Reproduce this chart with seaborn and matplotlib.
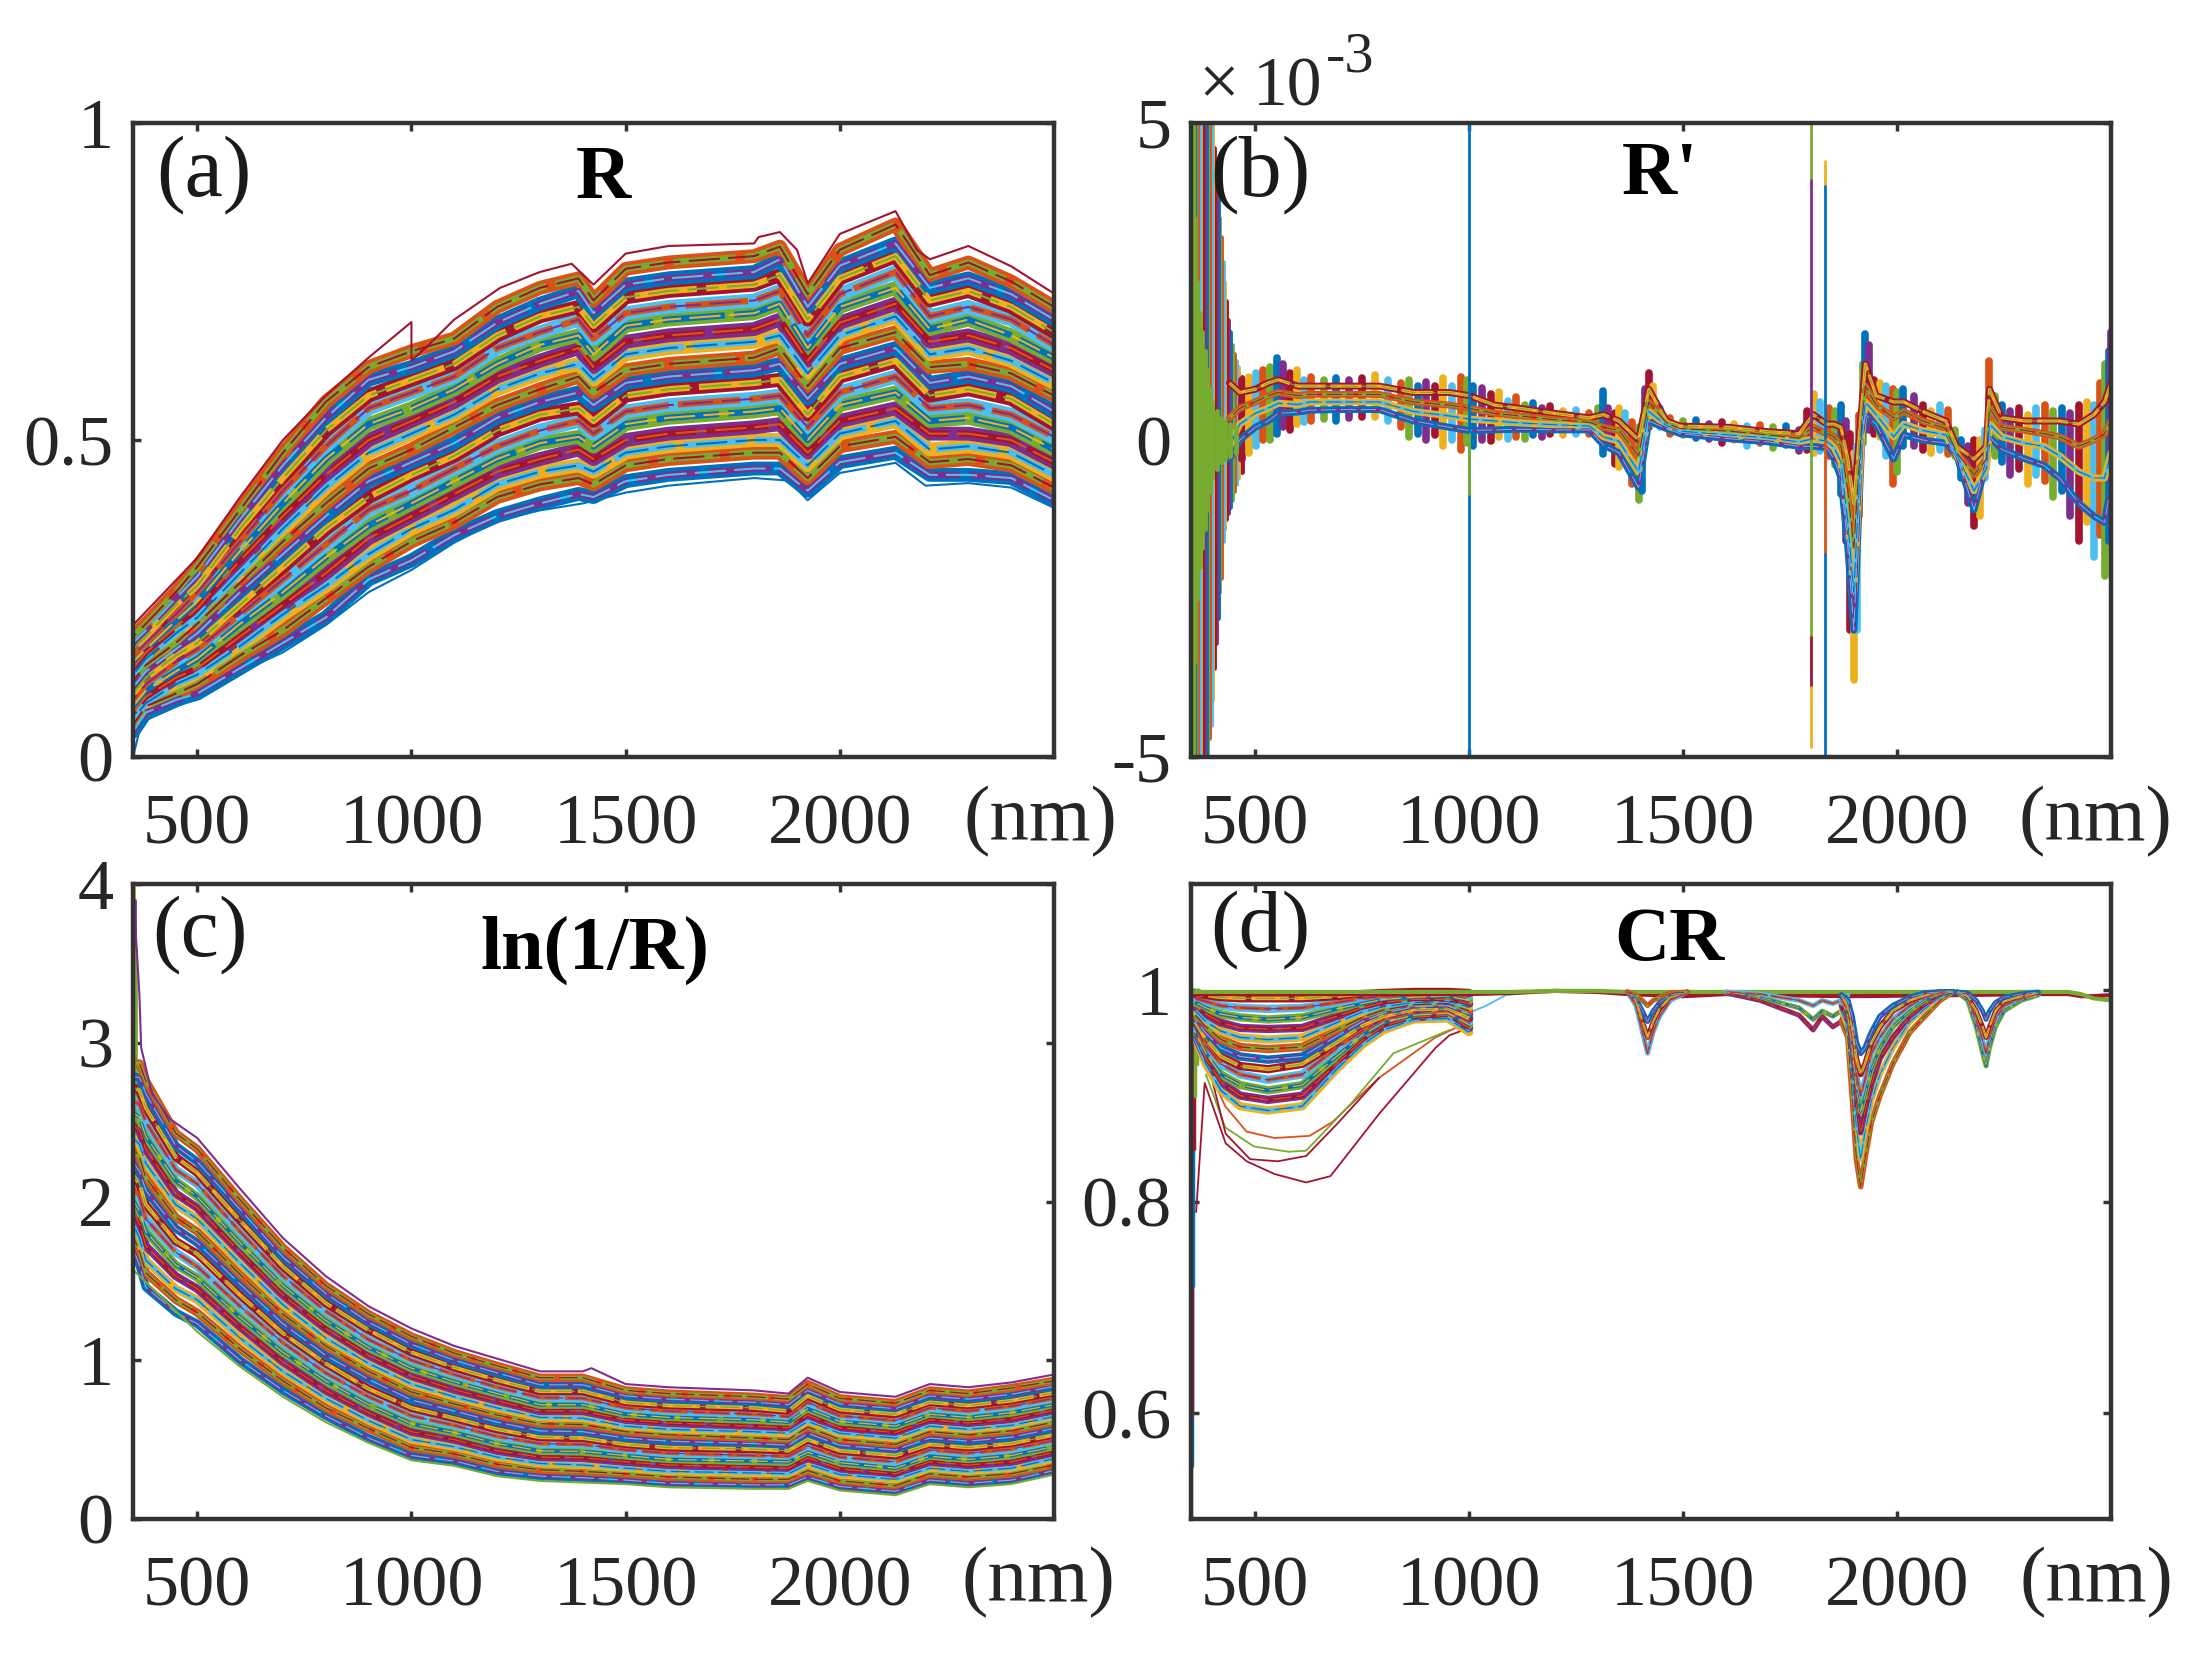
import matplotlib
matplotlib.use("Agg")
import matplotlib.pyplot as plt
import pandas as pd
import seaborn as sns

# matlab default line colours, the curves cycle through them
line_colors = ["#0072BD", "#D95319", "#EDB120", "#7E2F8E", "#77AC30", "#4DBEEE", "#A2142F"]

x_ticks = [500, 1000, 1500, 2000]

# ---------- panel a: R ----------
a_nm = [350, 380, 450, 500, 600, 700, 800, 900, 1000, 1100, 1200, 1300, 1390, 1425, 1500, 1600, 1800, 1860, 1925, 2000, 2130, 2210, 2300, 2400, 2500]
a_curves = [
    [.04, .07, .09, .10, .14, .18, .22, .28, .31, .35, .38, .40, .415, .41, .435, .445, .455, .455, .42, .465, .48, .445, .445, .44, .405],
    [.05, .08, .10, .115, .16, .20, .25, .30, .34, .37, .41, .43, .44, .43, .46, .47, .48, .48, .44, .49, .505, .465, .47, .46, .425],
    [.06, .085, .115, .13, .175, .225, .27, .32, .36, .39, .43, .45, .46, .45, .48, .49, .50, .50, .46, .51, .53, .485, .49, .48, .445],
    [.07, .095, .125, .14, .19, .24, .29, .345, .38, .415, .45, .47, .485, .47, .50, .51, .52, .525, .48, .53, .55, .51, .51, .50, .465],
    [.08, .105, .135, .155, .21, .26, .315, .365, .40, .435, .47, .495, .505, .49, .525, .535, .545, .55, .50, .555, .575, .53, .535, .52, .485],
    [.09, .115, .15, .17, .225, .28, .335, .39, .42, .455, .49, .515, .53, .51, .545, .555, .565, .57, .52, .575, .60, .55, .555, .54, .505],
    [.10, .125, .16, .18, .24, .30, .36, .41, .445, .475, .515, .54, .55, .53, .57, .58, .59, .595, .54, .60, .625, .57, .58, .565, .525],
    [.11, .135, .17, .195, .26, .32, .38, .435, .465, .495, .535, .56, .575, .555, .59, .60, .61, .62, .565, .62, .645, .59, .60, .585, .545],
    [.12, .145, .18, .21, .275, .34, .40, .455, .485, .52, .555, .58, .60, .575, .61, .62, .63, .645, .585, .645, .67, .615, .62, .605, .57],
    [.13, .155, .195, .22, .29, .36, .425, .48, .51, .54, .58, .605, .62, .595, .635, .645, .655, .665, .605, .665, .695, .635, .645, .625, .59],
    [.14, .165, .205, .235, .31, .38, .445, .50, .53, .56, .60, .625, .645, .615, .655, .665, .675, .69, .625, .685, .715, .655, .665, .645, .61],
    [.15, .17, .215, .245, .325, .40, .47, .525, .55, .58, .62, .65, .665, .635, .68, .69, .70, .715, .645, .71, .74, .675, .69, .665, .63],
    [.16, .18, .225, .26, .34, .42, .49, .55, .575, .60, .645, .67, .69, .66, .70, .71, .72, .735, .665, .73, .765, .695, .71, .69, .65],
    [.17, .19, .24, .27, .36, .44, .515, .57, .595, .62, .665, .695, .71, .68, .725, .735, .745, .76, .69, .755, .79, .72, .735, .71, .67],
    [.18, .20, .25, .285, .375, .46, .535, .595, .615, .64, .685, .715, .735, .70, .745, .755, .765, .785, .71, .775, .81, .74, .755, .73, .69],
    [.19, .21, .26, .30, .39, .48, .56, .615, .64, .66, .71, .74, .755, .72, .77, .78, .79, .805, .73, .80, .84, .76, .78, .75, .71],
]
a_top_nm = [350, 500, 600, 700, 800, 900, 1000, 1000, 1040, 1100, 1207, 1300, 1374, 1425, 1500, 1600, 1800, 1810, 1860, 1900, 1925, 2000, 2130, 2180, 2210, 2300, 2400, 2500]
a_top = [.208, .314, .41, .50, .57, .63, .686, .625, .65, .69, .74, .765, .778, .745, .794, .806, .81, .82, .828, .80, .747, .825, .861, .80, .785, .806, .774, .731]
a_low_nm = [350, 370, 500, 600, 700, 800, 900, 1000, 1100, 1200, 1300, 1400, 1500, 1600, 1800, 1880, 1925, 2000, 2130, 2200, 2300, 2400, 2500]
a_low = [0, .055, .094, .134, .165, .208, .26, .295, .338, .373, .389, .40, .417, .428, .44, .436, .405, .448, .464, .428, .432, .425, .393]

# ---------- panel b: R' (x 1e-3) ----------
b_nm = [440, 464, 500, 530, 554, 600, 627, 700, 790, 870, 954, 1000, 1060, 1118, 1200, 1281, 1314, 1350, 1396, 1420, 1461, 1493, 1608, 1700, 1771, 1804, 1836, 1853, 1869, 1885, 1899, 1918, 1926, 1951, 1992, 2016, 2060, 2114, 2139, 2180, 2209, 2216, 2245, 2300, 2343, 2380, 2425, 2460, 2485, 2500]
b_mid1 = [.9, .75, .8, .9, .95, .85, .85, .85, .85, .75, .75, .7, .55, .5, .42, .35, .4, .3, 0, .8, .3, .22, .2, .13, .1, .4, .25, .25, .2, -.3, -1.0, .55, 1.2, .7, .6, .6, .45, .3, -.1, -.3, -.1, .8, .35, .3, .3, .3, .25, .4, .6, .9]
b_mid2 = [.35, .5, .6, .7, .75, .7, .72, .72, .72, .6, .55, .5, .42, .38, .32, .28, .2, .15, -.25, .6, .27, .18, .14, .08, .03, .2, .1, .05, -.1, -.8, -1.7, .3, .85, .55, .35, .45, .3, .18, -.2, -.55, -.3, .5, .2, .15, .1, .05, -.1, 0, .1, .3]
b_mid3 = [-.1, .25, .42, .5, .58, .56, .6, .6, .6, .45, .38, .33, .3, .27, .24, .22, .05, -.02, -.5, .45, .23, .14, .08, .03, -.03, .02, -.02, -.12, -.35, -1.3, -2.4, .15, .6, .4, .05, .25, .15, .08, -.22, -.8, -.45, .25, .05, -.05, -.1, -.25, -.5, -.6, -.6, -.2]
b_mid4 = [-.3, 0, .2, .3, .42, .44, .47, .48, .48, .3, .2, .15, .16, .17, .16, .16, -.08, -.2, -.75, .3, .18, .1, .02, -.03, -.1, -.1, -.12, -.3, -.6, -1.7, -3.0, .05, .4, .25, -.3, .08, 0, -.05, -.24, -1.1, -.35, .05, -.15, -.3, -.4, -.6, -1.0, -1.2, -1.3, -.7]
# the noisy band: top and bottom of the ink at each wavelength
b_noise_nm = [470, 486, 502, 518, 534, 550, 566, 582, 598, 614, 630, 660, 690, 720, 750, 780, 810, 840, 860, 880, 900, 920, 940, 960, 980, 995,
              1010, 1030, 1050, 1070, 1090, 1110, 1130, 1150, 1170, 1190, 1220, 1250, 1280, 1300, 1312, 1325, 1340, 1350, 1365, 1380, 1396, 1405, 1412, 1420, 1430, 1445, 1470, 1500,
              1530, 1560, 1590, 1620, 1650, 1680, 1710, 1740, 1770, 1790, 1806, 1820, 1840, 1855, 1870, 1880, 1890, 1899, 1906, 1912, 1920, 1926, 1934, 1945, 1960, 1975, 1990,
              2000, 2015, 2040, 2060, 2080, 2100, 2120, 2135, 2150, 2165, 2180, 2195, 2205, 2216, 2228, 2245, 2265, 2285, 2305, 2325, 2345, 2365, 2385, 2405, 2425, 2445, 2460, 2475, 2485, 2495, 2499]
b_noise_hi = [.95, 1.0, 1.05, 1.1, 1.15, 1.3, 1.2, 1.05, 1.1, .95, 1.0, .95, .98, .95, .98, 1.03, .95, .9, .95, .85, .92, .85, .98, .85, 1.0, .95,
              .85, .82, .72, .75, .62, .68, .55, .58, .5, .53, .45, .47, .42, .5, .78, .5, .42, .5, .42, .28, .2, .15, .8, 1.05, .85, .5, .35, .3,
              .32, .25, .28, .25, .22, .24, .2, .22, .15, .45, .72, .6, .5, .45, .55, .3, .1, -.2, -.1, .4, 1.2, 1.67, 1.5, .95, .9, .85, .8,
              .75, .8, .7, .55, .45, .55, .48, .15, 0, -.1, 0, 0, .15, 1.24, .7, .55, .45, .5, .4, .5, .55, .45, .5, .42, .55, .6, .55, .9, 1.2, 1.4, 1.7]
b_noise_lo = [-.3, -.2, -.1, 0, 0, .1, .2, .15, .25, .28, .3, .33, .3, .35, .36, .36, .3, .2, .05, .1, 0, .08, -.1, 0, -.15, -.05,
              -.1, 0, -.02, .05, .02, .05, .02, .08, .05, .1, .08, .1, .1, .05, -.22, -.1, -.38, -.42, -.25, -.7, -.95, -.8, .1, .2, .25, .2, .1, .08,
              .03, .02, -.05, 0, -.1, -.05, -.12, -.08, -.17, -.15, -.2, -.18, -.25, -.4, -.85, -1.6, -3.0, -3.78, -3.0, -1.2, -.05, .2, .15, .1, .05, -.25, -.7,
              -.5, -.1, -.1, -.15, -.2, -.15, -.22, -.25, -.6, -1.0, -1.35, -1.2, -.6, -.15, -.25, -.35, -.55, -.45, -.7, -.55, -.65, -.9, -.8, -1.2, -1.6, -1.3, -1.85, -1.5, -2.15, -1.6, -1.3]
# the fan at the short wavelength end, one vertical stroke per wavelength
b_fan_nm = [470, 460, 455, 450, 445, 440, 436, 432, 428, 424, 420, 416, 412, 408, 404, 400, 396, 392, 388, 384, 380, 376, 372, 368, 364, 360, 356, 352]
b_fan_hi = [1.0, 1.15, 1.25, 1.35, 1.5, 1.7, 1.9, 2.2, 2.5, 2.8, 3.2, 3.5, 3.9, 4.3, 4.6, 5, 5.5, 5.5, 5.5, 5.5, 5.5, 5.5, 5.5, 5.5, 5.5, 5.5, 5.5, 5.5]
b_fan_lo = [-.5, -.6, -.7, -.8, -.95, -1.05, -1.15, -1.25, -1.4, -1.6, -2.17, -2.4, -2.8, -3.2, -3.6, -4.1, -4.5, -4.7, -5, -5.5, -5.5, -5.5, -5.5, -5.5, -5.5, -5.5, -5.5, -5.5]
b_wedge_nm = [455, 440, 430, 420, 410, 400, 394, 388, 382, 376, 370, 364, 358, 354, 352]
b_wedge_hi = [.2, .25, .3, .35, .45, .6, .8, 1.1, 1.4, 1.7, 2, 2.5, 3.5, 5.5, 5.5]
b_wedge_lo = [-.2, -.25, -.3, -.35, -.45, -.6, -.8, -1.1, -1.4, -1.7, -2, -2.5, -3.5, -5.5, -5.5]
# spikes: wavelength, from, to, colour index
b_spike_nm = [1000, 1000, 1800, 1800, 1800, 1800, 1800, 1831, 1831, 1831, 1831]
b_spike_hi = [5, .1, 5, 4.1, 0, -3.1, -3.9, 4.4, 4.0, 0, -1.8]
b_spike_lo = [-5, -.85, 4.1, 0, -3.1, -3.9, -4.85, 4.0, 0, -1.8, -5]
b_spike_color = [0, 4, 4, 3, 4, 6, 2, 2, 0, 1, 0]

# ---------- panel c: ln(1/R) ----------
c_nm = [350, 365, 380, 450, 500, 600, 700, 800, 900, 1000, 1100, 1200, 1300, 1400, 1500, 1600, 1800, 1880, 1925, 2000, 2130, 2210, 2300, 2400, 2500]
c_curves = [
    [1.7, 1.6, 1.46, 1.30, 1.23, 1.0, .81, .65, .51, .40, .365, .30, .27, .26, .245, .225, .215, .215, .265, .205, .175, .245, .225, .245, .305],
    [1.78, 1.69, 1.55, 1.38, 1.30, 1.07, .87, .70, .57, .45, .41, .345, .31, .30, .285, .265, .25, .25, .305, .24, .21, .285, .265, .285, .34],
    [1.86, 1.77, 1.63, 1.45, 1.38, 1.14, .93, .76, .62, .50, .455, .39, .35, .34, .32, .30, .29, .285, .345, .28, .25, .32, .30, .32, .38],
    [1.94, 1.86, 1.72, 1.53, 1.45, 1.21, .99, .81, .67, .55, .50, .43, .39, .385, .36, .34, .325, .32, .385, .315, .285, .36, .34, .36, .42],
    [2.01, 1.94, 1.81, 1.60, 1.52, 1.27, 1.05, .87, .72, .60, .545, .475, .43, .425, .40, .375, .365, .36, .42, .355, .32, .395, .375, .40, .455],
    [2.09, 2.03, 1.89, 1.68, 1.59, 1.34, 1.11, .92, .77, .65, .59, .52, .475, .47, .435, .415, .40, .395, .46, .39, .36, .435, .415, .44, .495],
    [2.17, 2.11, 1.98, 1.75, 1.67, 1.41, 1.17, .98, .82, .70, .635, .565, .515, .51, .47, .45, .44, .43, .50, .43, .40, .47, .45, .475, .53],
    [2.25, 2.19, 2.07, 1.83, 1.74, 1.48, 1.23, 1.03, .88, .75, .68, .61, .555, .55, .51, .49, .475, .465, .54, .465, .435, .51, .49, .515, .57],
    [2.33, 2.28, 2.15, 1.90, 1.81, 1.54, 1.29, 1.09, .93, .80, .725, .655, .60, .595, .55, .53, .51, .50, .58, .50, .47, .55, .53, .555, .61],
    [2.40, 2.36, 2.24, 1.98, 1.89, 1.61, 1.35, 1.14, .98, .85, .77, .70, .64, .635, .585, .565, .55, .54, .615, .54, .51, .585, .565, .59, .645],
    [2.48, 2.45, 2.33, 2.05, 1.96, 1.68, 1.41, 1.20, 1.03, .90, .815, .745, .68, .68, .625, .605, .585, .575, .655, .575, .545, .625, .605, .63, .685],
    [2.56, 2.53, 2.41, 2.13, 2.03, 1.74, 1.47, 1.25, 1.08, .95, .865, .79, .72, .72, .66, .64, .625, .61, .695, .615, .585, .66, .64, .67, .72],
    [2.64, 2.61, 2.50, 2.20, 2.11, 1.81, 1.53, 1.31, 1.13, 1.0, .91, .83, .765, .76, .70, .68, .66, .645, .735, .65, .62, .70, .68, .71, .76],
    [2.72, 2.70, 2.59, 2.28, 2.18, 1.88, 1.59, 1.36, 1.19, 1.05, .955, .875, .805, .805, .735, .715, .70, .68, .775, .69, .66, .735, .715, .745, .795],
    [2.79, 2.78, 2.68, 2.35, 2.25, 1.95, 1.65, 1.42, 1.24, 1.10, 1.0, .92, .845, .845, .775, .755, .735, .72, .81, .725, .695, .775, .755, .785, .835],
    [2.87, 2.87, 2.76, 2.43, 2.33, 2.01, 1.71, 1.47, 1.29, 1.15, 1.045, .965, .89, .89, .81, .79, .77, .755, .85, .76, .73, .81, .79, .825, .87],
]
c_top_nm = [350, 365, 369, 394, 436, 500, 600, 700, 800, 900, 1000, 1100, 1200, 1300, 1400, 1420, 1500, 1600, 1800, 1880, 1925, 2000, 2130, 2210, 2300, 2400, 2500]
c_top = [4, 3.3, 2.97, 2.68, 2.52, 2.40, 2.08, 1.77, 1.53, 1.34, 1.20, 1.09, 1.01, .93, .93, .95, .85, .83, .81, .79, .89, .80, .77, .85, .83, .86, .91]
c_low_nm = [350, 500, 600, 700, 800, 900, 1000, 1100, 1200, 1300, 1400, 1500, 1600, 1800, 1880, 1925, 2000, 2130, 2210, 2300, 2400, 2500]
c_low = [1.57, 1.18, .96, .77, .61, .48, .37, .335, .27, .24, .23, .22, .2, .19, .19, .24, .18, .15, .22, .2, .22, .28]
c_spike_nm = [351, 353, 355, 358]
c_spike_hi = [4, 4, 3.9, 3.6]
c_spike_lo = [1.7, 1.8, 1.8, 1.7]

# ---------- panel d: CR ----------
d_base_nm = [350, 1000, 1100, 1200, 1300, 1370, 1500, 1600, 1700, 1885, 2131, 2330, 2400, 2430, 2458, 2500]
d_base1 = [.998, .998, .998, .999, .999, .998, .998, .998, .998, .998, .998, .998, .998, .996, .992, .99]
d_base2 = [.996, .996, .997, .999, .998, .996, .994, .996, .995, .994, .995, .996, .996, .994, .994, .995]
d_vis_nm = [360, 385, 420, 465, 530, 610, 690, 750, 800, 870, 950, 1000]
d_vis = [
    [.955, .93, .905, .89, .886, .89, .925, .948, .962, .972, .973, .96],
    [.957, .935, .913, .90, .896, .90, .93, .952, .966, .974, .976, .964],
    [.96, .94, .92, .91, .905, .91, .937, .957, .969, .976, .978, .967],
    [.965, .947, .93, .92, .915, .92, .945, .961, .972, .979, .98, .97],
    [.97, .953, .937, .928, .925, .93, .95, .966, .975, .981, .982, .973],
    [.972, .959, .945, .937, .934, .937, .956, .97, .978, .984, .985, .977],
    [.976, .965, .953, .946, .944, .946, .962, .974, .981, .986, .987, .98],
    [.98, .97, .961, .955, .953, .955, .969, .979, .984, .988, .989, .984],
    [.984, .977, .969, .964, .963, .964, .975, .983, .988, .991, .991, .987],
    [.988, .983, .977, .974, .972, .974, .982, .987, .991, .993, .994, .99],
    [.992, .989, .985, .983, .982, .983, .988, .992, .994, .995, .996, .994],
    [.996, .995, .993, .992, .992, .992, .994, .996, .997, .998, .998, .997],
]
d_out_maroon_nm = [362, 382, 431, 480, 545, 619, 676, 790, 921, 954, 1000]
d_out_maroon = [.79, .912, .855, .838, .826, .818, .824, .883, .945, .957, .964]
d_out_orange_nm = [385, 430, 480, 545, 627, 680, 790, 921, 1000]
d_out_orange = [.93, .89, .866, .86, .862, .875, .917, .955, .97]
d_out_green_nm = [385, 430, 497, 578, 619, 725, 823, 954]
d_out_green = [.92, .87, .852, .847, .848, .893, .94, .962]
d_out_red_nm = [390, 431, 488, 553, 619, 693, 790]
d_out_red = [.93, .864, .84, .838, .843, .874, .917]
d_after_nm = [1000, 1010, 1040, 1085, 1200]
d_after = [.975, .98, .985, .995, 1.0]
d_1420_nm = [1370, 1390, 1405, 1417, 1430, 1445, 1470, 1510]
d_1420 = [
    [.998, .985, .96, .94, .96, .975, .99, .998],
    [.998, .99, .97, .955, .97, .982, .993, .998],
    [.998, .992, .98, .97, .98, .988, .995, .998],
    [.998, .995, .99, .985, .99, .993, .997, .998],
]
d_1800_nm = [1600, 1680, 1771, 1804, 1825, 1850, 1869, 1885]
d_1800 = [
    [.997, .99, .976, .962, .975, .965, .97, .985],
    [.998, .993, .983, .972, .98, .975, .98, .99],
    [.998, .996, .99, .985, .99, .987, .99, .995],
]
d_1915_nm = [1870, 1885, 1895, 1905, 1915, 1925, 1940, 1960, 1990, 2030, 2065, 2100, 2131]
d_1915 = [
    [.97, .955, .90, .84, .814, .84, .875, .90, .93, .96, .975, .99, .998],
    [.98, .965, .92, .87, .84, .865, .895, .92, .945, .97, .982, .993, .998],
    [.985, .97, .935, .89, .865, .885, .91, .935, .955, .975, .986, .995, .998],
    [.99, .975, .945, .905, .885, .90, .925, .945, .965, .98, .99, .996, .998],
    [.99, .98, .955, .92, .90, .915, .94, .955, .972, .985, .993, .997, .998],
    [.995, .985, .965, .935, .92, .93, .95, .965, .98, .99, .995, .998, .998],
    [.995, .99, .975, .95, .94, .945, .96, .975, .985, .993, .997, .998, .998],
]
d_2208_nm = [2140, 2165, 2185, 2200, 2208, 2216, 2230, 2250, 2290, 2330]
d_2208 = [
    [.998, .99, .965, .94, .928, .945, .965, .98, .99, .995],
    [.998, .992, .972, .952, .94, .955, .972, .985, .992, .996],
    [.998, .994, .98, .965, .955, .965, .98, .989, .994, .997],
    [.998, .997, .99, .98, .972, .98, .988, .993, .996, .998],
]
d_spike_nm = [351, 352, 353, 354, 356, 360, 364, 368]
d_spike_hi = [1, 1, 1, 1, 1, 1, 1, 1]
d_spike_lo = [.5, .55, .6, .72, .85, .9, .93, .95]


def draw(ax, pairs, lw, start=0, step=1, colors=None, dash=None):
    # every curve is (wavelengths, values); colours cycle like matlab's hold on
    rows = []
    for i, (nm, vals) in enumerate(pairs):
        rows.append(pd.DataFrame({"nm": nm, "val": vals, "curve": f"c{i:03d}"}))
    df = pd.concat(rows)
    if colors is None:
        colors = [line_colors[(i * step + start) % 7] for i in range(len(pairs))]
    n_before = len(ax.lines)
    sns.lineplot(data=df, x="nm", y="val", hue="curve", palette=colors, estimator=None,
                 sort=False, linewidth=lw, legend=False, ax=ax)
    if dash is not None:
        # shift the dashes per curve so the breaks don't line up in columns
        for k, line in enumerate(ax.lines[n_before:]):
            line.set_linestyle(((k * 7) % 23, dash))


def draw_dense(ax, pairs, lw, start=0):
    # the same curves again, narrower and broken, for the fine mottled stripes of the original
    draw(ax, pairs, lw, start=start)
    draw(ax, pairs, lw * 0.45, start=start + 3, dash=(10, 1.5))
    draw(ax, pairs, lw * 0.15, start=start + 5, dash=(15, 4))


def strokes(nm, hi, lo):
    return [([n, n], [h, l]) for n, h, l in zip(nm, hi, lo)]


sns.set_theme(style="white")
plt.rcParams["font.family"] = ["Liberation Serif", "DejaVu Serif"]

W, H = 2194, 1654
fig = plt.figure(figsize=(W / 100, H / 100), dpi=100, facecolor="white")


def panel(left, top, right, bottom):
    return fig.add_axes([left / W, 1 - bottom / H, (right - left) / W, (bottom - top) / H])


ax_a = panel(133, 123, 1054, 757)
ax_b = panel(1191, 123, 2111, 757)
ax_c = panel(133, 884, 1054, 1519)
ax_d = panel(1191, 884, 2111, 1519)

# panel a
draw_dense(ax_a, [(a_nm, v) for v in a_curves], 10)
draw(ax_a, [(a_top_nm, a_top), (a_low_nm, a_low)], 1.5, start=6)

# panel b
draw(ax_b, strokes(b_fan_nm, b_fan_hi, b_fan_lo), 3.5, start=6, step=3)
draw(ax_b, strokes(b_noise_nm, b_noise_hi, b_noise_lo), 5.5, start=6, step=3)
draw_dense(ax_b, [(b_nm, b_mid1), (b_nm, b_mid4), (b_nm, b_mid2), (b_nm, b_mid3)], 5, start=6)
draw(ax_b, strokes(b_wedge_nm, b_wedge_hi, b_wedge_lo), 3.5, colors=[line_colors[4]] * len(b_wedge_nm))
draw(ax_b, strokes(b_spike_nm, b_spike_hi, b_spike_lo), 2, colors=[line_colors[i] for i in b_spike_color])

# panel c
draw(ax_c, strokes(c_spike_nm, c_spike_hi, c_spike_lo), 2, start=1)
draw_dense(ax_c, [(c_nm, v) for v in c_curves], 6)
draw(ax_c, [(c_top_nm, c_top), (c_low_nm, c_low)], 1.5, start=3)

# panel d
draw(ax_d, strokes(d_spike_nm, d_spike_hi, d_spike_lo), 2.5, colors=[line_colors[i] for i in [4, 0, 6, 0, 6, 4, 4, 4]])
draw(ax_d, [(d_out_maroon_nm, d_out_maroon), (d_out_orange_nm, d_out_orange), (d_out_green_nm, d_out_green), (d_out_red_nm, d_out_red), (d_after_nm, d_after)],
     1.3, colors=[line_colors[6], line_colors[1], line_colors[4], line_colors[6], line_colors[5]])
draw_dense(ax_d, [(d_vis_nm, v) for v in d_vis], 6, start=2)
draw(ax_d, [(d_base_nm, d_base2), (d_base_nm, d_base1)], 3, colors=[line_colors[6], line_colors[4]])
draw_dense(ax_d, [(d_1420_nm, v) for v in d_1420], 3.5, start=5)
draw_dense(ax_d, [(d_1800_nm, v) for v in d_1800], 3.5, start=3)
draw_dense(ax_d, [(d_1915_nm, v) for v in d_1915], 4, start=1)
draw_dense(ax_d, [(d_2208_nm, v) for v in d_2208], 3.5, start=4)

limits = [(ax_a, (0, 1), [0, .5, 1], ["0", "0.5", "1"]),
          (ax_b, (-5, 5), [-5, 0, 5], ["-5", "0", "5"]),
          (ax_c, (0, 4), [0, 1, 2, 3, 4], ["0", "1", "2", "3", "4"]),
          (ax_d, (.5, 1.1), [.6, .8, 1], ["0.6", "0.8", "1"])]
for ax, ylim, yt, ylab in limits:
    ax.set_xlim(350, 2500)
    ax.set_ylim(*ylim)
    ax.set_xticks(x_ticks)
    ax.set_xticklabels([str(t) for t in x_ticks])
    ax.set_yticks(yt)
    ax.set_yticklabels(ylab)
    ax.set_xlabel("")
    ax.set_ylabel("")
    ax.tick_params(direction="in", length=6, width=2.5, top=True, right=True, bottom=True, left=True,
                   color="#333333", labelcolor="#262626", labelsize=52)
    ax.tick_params(axis="x", pad=26)
    ax.tick_params(axis="y", pad=14)
    for s in ax.spines.values():
        s.set_color("#333333")
        s.set_linewidth(3.2)
        s.set_zorder(10)


def label(x, y, text, size, **kw):
    # positions are pixels of the figure, measured from the top left
    fig.text(x / W, 1 - y / H, text, fontsize=size, ha="center", va="center", **kw)


ink = "#1a1a1a"
for x, y, t in [(204, 175, "(a)"), (1260, 175, "(b)"), (200, 935, "(c)"), (1260, 930, "(d)")]:
    label(x, y, t, 62, color=ink)
for x, y, t in [(603, 180, "R"), (1660, 175, "R'"), (595, 950, "ln(1/R)"), (1669, 942, "CR")]:
    label(x, y, t, 55, color="black", fontweight="bold")
for x, y in [(1040, 822), (2095, 822), (1038, 1583), (2096, 1583)]:
    label(x, y, "(nm)", 57, color="#262626")

fig.text(1198 / W, 1 - 105 / H, "×", fontsize=52, color="#262626", ha="left", va="baseline")
fig.text(1253 / W, 1 - 105 / H, "10", fontsize=50, color="#262626", ha="left", va="baseline")
fig.text(1326 / W, 1 - 71 / H, "-3", fontsize=42, color="#262626", ha="left", va="baseline")

fig.savefig("out.png", dpi=100, facecolor="white")
